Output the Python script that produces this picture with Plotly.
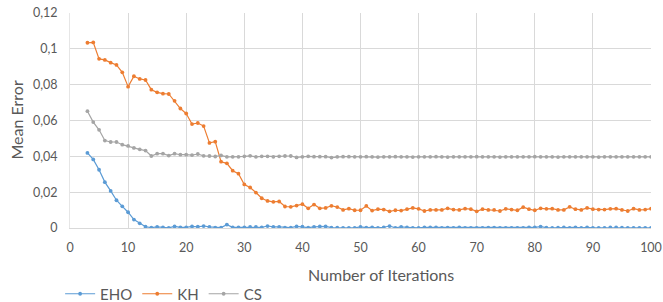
import plotly.graph_objects as go

iterations = list(range(3, 101))

eho = [0.0419, 0.0383, 0.0325, 0.0256, 0.0207, 0.0155, 0.0121, 0.0088, 0.0047, 0.0026,
       0.0007, 0.0002, 0.0006, 0.0004, 0.0001, 0.0009, 0.0004, 0.0004, 0.0009, 0.0007,
       0.0011, 0.0006, 0.0002, 0.0002, 0.0019, 0.0004, 0.0004, 0.0004, 0.0006, 0.0006,
       0.0004, 0.0011, 0.0006, 0.0006, 0.0002, 0.0002, 0.0009, 0.0007, 0.0002, 0.0006,
       0.0009, 0.0009, 0.0002, 0.0002, 0.0001, 0.0001, 0.0001, 0.0006, 0.0002, 0.0004,
       0.0001, 0.0004, 0.0011, 0.0001, 0.0006, 0.0004, 0.0001, 0.0001, 0.0004, 0.0004,
       0.0004, 0.0001, 0.0002, 0.0001, 0.0004, 0.0001, 0.0001, 0.0001, 0.0001, 0.0002,
       0.0002, 0.0001, 0.0001, 0.0001, 0.0001, 0.0001, 0.0004, 0.0004, 0.0008, 0.0002,
       0.0001, 0.0002, 0.0004, 0.0001, 0.0004, 0.0001, 0.0004, 0.0001, 0.0001, 0.0001,
       0.0004, 0.0004, 0.0002, 0.0001, 0.0001, 0.0001, 0.0001, 0.0001]

kh = [0.1034, 0.1036, 0.0944, 0.0938, 0.0923, 0.0910, 0.0869, 0.0789, 0.0847, 0.0832,
      0.0826, 0.0772, 0.0757, 0.0750, 0.0748, 0.0710, 0.0667, 0.0639, 0.0580, 0.0586,
      0.0569, 0.0475, 0.0482, 0.0370, 0.0361, 0.0320, 0.0303, 0.0243, 0.0226, 0.0198,
      0.0166, 0.0151, 0.0146, 0.0148, 0.0120, 0.0118, 0.0125, 0.0133, 0.0110, 0.0131,
      0.0110, 0.0112, 0.0124, 0.0117, 0.0101, 0.0108, 0.0099, 0.0099, 0.0123, 0.0097,
      0.0105, 0.0103, 0.0093, 0.0099, 0.0097, 0.0105, 0.0112, 0.0107, 0.0095, 0.0101,
      0.0101, 0.0101, 0.0110, 0.0103, 0.0101, 0.0108, 0.0105, 0.0093, 0.0105, 0.0101,
      0.0101, 0.0095, 0.0107, 0.0103, 0.0099, 0.0116, 0.0105, 0.0099, 0.0110, 0.0107,
      0.0108, 0.0101, 0.0101, 0.0118, 0.0105, 0.0101, 0.0112, 0.0105, 0.0103, 0.0103,
      0.0107, 0.0108, 0.0101, 0.0095, 0.0108, 0.0101, 0.0103, 0.0108]

cs = [0.0652, 0.0591, 0.0548, 0.0488, 0.0480, 0.0480, 0.0465, 0.0458, 0.0447, 0.0439,
      0.0432, 0.0402, 0.0415, 0.0415, 0.0404, 0.0415, 0.0409, 0.0409, 0.0407, 0.0413,
      0.0403, 0.0402, 0.0399, 0.0405, 0.0397, 0.0397, 0.0397, 0.0400, 0.0403, 0.0397,
      0.0400, 0.0400, 0.0397, 0.0400, 0.0402, 0.0402, 0.0394, 0.0397, 0.0400, 0.0398,
      0.0398, 0.0398, 0.0393, 0.0397, 0.0398, 0.0398, 0.0397, 0.0397, 0.0398, 0.0397,
      0.0396, 0.0397, 0.0397, 0.0398, 0.0397, 0.0397, 0.0396, 0.0397, 0.0397, 0.0397,
      0.0398, 0.0397, 0.0396, 0.0397, 0.0397, 0.0397, 0.0397, 0.0398, 0.0397, 0.0397,
      0.0397, 0.0396, 0.0397, 0.0397, 0.0397, 0.0397, 0.0397, 0.0398, 0.0397, 0.0397,
      0.0397, 0.0396, 0.0397, 0.0397, 0.0397, 0.0397, 0.0397, 0.0397, 0.0396, 0.0397,
      0.0397, 0.0397, 0.0397, 0.0397, 0.0397, 0.0397, 0.0397, 0.0397]

series = [("EHO", eho, "#5B9BD5"), ("KH", kh, "#ED7D31"), ("CS", cs, "#A5A5A5")]

x_title = "Number of Iterations"
y_title = "Mean Error"

fig = go.Figure()
for name, vals, color in series:
    fig.add_trace(go.Scatter(
        x=iterations, y=vals, name=name, mode="lines+markers",
        line=dict(color=color, width=1.2),
        marker=dict(color=color, size=3.8, symbol="circle"),
    ))

font_family = "Lato, 'Open Sans', sans-serif"
W, H = 663, 302
ML, MR, MT, MB = 70, 12, 13, 74
fig.update_layout(
    width=W, height=H,
    margin=dict(l=ML, r=MR, t=MT, b=MB, autoexpand=False),
    paper_bgcolor="white", plot_bgcolor="white",
    separators=",.",
    font=dict(family=font_family, color="#595959", size=12),
    showlegend=True,
    legend=dict(orientation="h", x=-0.017, xanchor="left", y=-0.307, yanchor="middle",
                font=dict(size=15, color="#595959"), itemwidth=30,
                tracegroupgap=0, bgcolor="rgba(0,0,0,0)"),
    xaxis=dict(range=[0, 100], dtick=10, tick0=0, showgrid=True, gridcolor="#D9D9D9",
               gridwidth=1, zeroline=False, showline=True, linecolor="#D9D9D9",
               ticks="", ticklabelstandoff=8, automargin=False,
               ticklabeloverflow="allow",
               tickfont=dict(size=12.5, color="#595959")),
    yaxis=dict(range=[0, 0.12], dtick=0.02, tick0=0, showgrid=True, gridcolor="#D9D9D9",
               gridwidth=1, zeroline=False, showline=True, linecolor="#E6E6E6",
               ticks="", ticklabelstandoff=9, automargin=False,
               tickfont=dict(size=12.5, color="#595959")),
)

plot_w = W - ML - MR
plot_h = H - MT - MB
fig.add_annotation(text=x_title, xref="paper", yref="paper",
                   x=(381 - ML) / plot_w, y=(H - MB - 274) / plot_h,
                   xanchor="center", yanchor="middle", showarrow=False,
                   font=dict(size=16, color="#595959", family=font_family))
fig.add_annotation(text=y_title, xref="paper", yref="paper",
                   x=(16 - ML) / plot_w, y=0.5, textangle=-90,
                   xanchor="center", yanchor="middle", showarrow=False,
                   font=dict(size=16, color="#595959", family=font_family))

fig.write_html("out.html", config={"displayModeBar": False},
               post_script="document.body.style.margin='0';document.body.style.overflow='hidden';")
